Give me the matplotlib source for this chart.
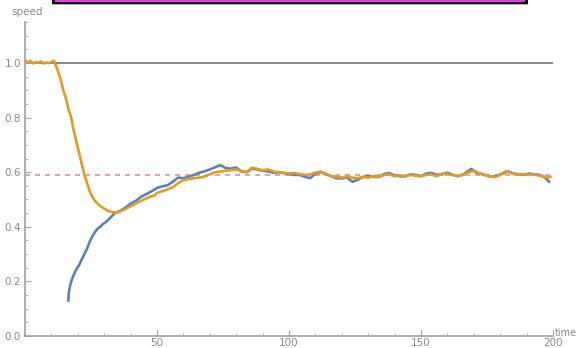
import matplotlib.pyplot as plt
from matplotlib.patches import Rectangle
from matplotlib.ticker import MultipleLocator

# orange series (starts at full speed)
t_orange = [0, 1, 2, 3, 4, 5, 6, 7, 8, 9, 10, 11, 11.5,
            12.5, 13.5, 14.5, 15.5, 16.5, 17.5, 18.5, 19.5, 20.5, 21.5, 22.5, 23.5, 24.5,
            25.5, 26.5, 28, 29.5, 31, 32.5, 34, 35.5, 37, 39, 41, 43, 45, 47, 49, 50,
            52, 54, 56, 58, 60, 62, 64, 66, 68, 70, 72, 74, 76, 78, 80, 82, 84, 86,
            88, 90, 92, 94, 96, 98, 100, 102, 104, 106, 108, 110, 112, 114, 116, 118,
            120, 122, 124, 126, 128, 130, 132, 134, 136, 138, 140, 142, 144, 146, 148,
            150, 152, 154, 156, 158, 160, 162, 164, 166, 168, 170, 172, 174, 176, 178,
            180, 182, 184, 186, 188, 190, 192, 194, 196, 198, 199]
v_orange = [1.012, 1.0, 1.008, 0.998, 1.003, 1.0, 1.006, 0.998, 1.002, 0.999, 1.004, 1.008, 0.995,
            0.97, 0.94, 0.90, 0.87, 0.83, 0.80, 0.75, 0.71, 0.67, 0.63, 0.59, 0.56, 0.53,
            0.51, 0.495, 0.48, 0.47, 0.46, 0.455, 0.452, 0.455, 0.46, 0.47, 0.48, 0.49, 0.50, 0.508, 0.515, 0.524,
            0.53, 0.537, 0.545, 0.56, 0.571, 0.575, 0.578, 0.58, 0.584, 0.592, 0.60, 0.602, 0.605, 0.607, 0.61, 0.604, 0.60, 0.617,
            0.612, 0.607, 0.61, 0.603, 0.60, 0.598, 0.595, 0.597, 0.593, 0.59, 0.592, 0.598, 0.602, 0.594, 0.585, 0.583,
            0.58, 0.585, 0.58, 0.578, 0.583, 0.58, 0.585, 0.583, 0.59, 0.592, 0.585, 0.588, 0.585, 0.59, 0.587,
            0.585, 0.59, 0.592, 0.585, 0.595, 0.593, 0.59, 0.587, 0.59, 0.60, 0.605, 0.597, 0.59, 0.585, 0.582,
            0.59, 0.603, 0.598, 0.59, 0.593, 0.59, 0.592, 0.589, 0.585, 0.58, 0.583]

# blue series (starts late, from low speed)
t_blue = [16.4, 16.6, 17, 17.5, 18.5, 19.5, 20.5, 21.5, 22.5, 23.5, 24.5, 25.5, 26.5,
          27.5, 28.5, 29.5, 31, 32.5, 34, 36, 38, 40, 42, 44, 46, 48, 50, 52, 54, 56,
          58, 60, 62, 64, 66, 68, 70, 72, 74, 76, 78, 80, 82, 84, 86, 88, 90, 92, 94,
          96, 98, 100, 102, 104, 106, 108, 110, 112, 114, 116, 118, 120, 122, 124, 126,
          128, 130, 132, 134, 136, 138, 140, 142, 144, 146, 148, 150, 152, 154, 156,
          158, 160, 162, 164, 166, 168, 169, 171, 173, 175, 177, 179, 181, 183, 185,
          187, 189, 191, 193, 195, 197, 198, 198.5]
v_blue = [0.13, 0.16, 0.18, 0.2, 0.225, 0.245, 0.26, 0.28, 0.30, 0.32, 0.345, 0.365, 0.38,
          0.393, 0.40, 0.41, 0.42, 0.435, 0.45, 0.458, 0.47, 0.485, 0.495, 0.51, 0.52, 0.53, 0.542, 0.548, 0.552, 0.565,
          0.58, 0.578, 0.583, 0.59, 0.598, 0.603, 0.61, 0.618, 0.626, 0.615, 0.613, 0.617, 0.603, 0.60, 0.613, 0.61, 0.605, 0.603, 0.598,
          0.6, 0.597, 0.593, 0.59, 0.59, 0.583, 0.578, 0.595, 0.6, 0.592, 0.585, 0.578, 0.577, 0.58, 0.565, 0.572,
          0.582, 0.585, 0.583, 0.582, 0.593, 0.597, 0.588, 0.585, 0.585, 0.592, 0.59, 0.585, 0.595, 0.597, 0.59,
          0.592, 0.598, 0.59, 0.585, 0.592, 0.605, 0.612, 0.598, 0.593, 0.587, 0.583, 0.588, 0.595, 0.603, 0.595,
          0.592, 0.59, 0.595, 0.592, 0.59, 0.58, 0.57, 0.565]

max_speed = 1.0
mean_speed = 0.59

W, H = 579, 348
fig = plt.figure(figsize=(W / 100, H / 100), dpi=100)
ax = fig.add_axes([25 / W, 12 / H, 528 / W, 314 / H])

gray = '#8a8a8a'
ax.axhline(max_speed, color='#808080', lw=1.3, zorder=1)
ax.axhline(mean_speed, color='#f08c8c', lw=1.2, ls=(0, (3, 3)), zorder=1)
ax.plot(t_blue, v_blue, color='#5e81b5', lw=1.9, zorder=2)
ax.plot(t_orange, v_orange, color='#e19c24', lw=1.9, zorder=3)

ax.set_xlim(0, 200)
ax.set_ylim(0, 1.15)
for s in ['top', 'right']:
    ax.spines[s].set_visible(False)
for s in ['left', 'bottom']:
    ax.spines[s].set_color('#a0a0a0')
    ax.spines[s].set_linewidth(1.2)

ax.xaxis.set_major_locator(MultipleLocator(50))
ax.xaxis.set_minor_locator(MultipleLocator(10))
ax.yaxis.set_major_locator(MultipleLocator(0.2))
ax.yaxis.set_minor_locator(MultipleLocator(0.05))
ax.set_xticks([50, 100, 150, 200])
ax.tick_params(which='both', direction='in', color='#a0a0a0', labelcolor=gray, labelsize=7.5)
ax.tick_params(which='major', length=4, width=0.8, pad=3)
ax.tick_params(axis='x', which='major', pad=1.5)
ax.tick_params(which='minor', length=2.5, width=0.6)
ax.set_yticks([0.0, 0.2, 0.4, 0.6, 0.8, 1.0])
ax.set_yticklabels(['0.0', '0.2', '0.4', '0.6', '0.8', '1.0'])

fig.text(11 / W, 1 - 12 / H, 'speed', color=gray, fontsize=7.5, va='center')
fig.text(1 - 2 / W, 1 - 333 / H, 'time', color=gray, fontsize=7, va='center', ha='right')

# cut-off frame at the top of the image
fig.patches.append(Rectangle((52 / W, 1 - 4.7 / H), 476 / W, 8 / H, transform=fig.transFigure,
                             color='#b0b0b0', lw=0))
fig.patches.append(Rectangle((52 / W, 1 - 3.5 / H), 476 / W, 8 / H, transform=fig.transFigure,
                             color='black', lw=0))
fig.patches.append(Rectangle((55 / W, 1 - 1.8 / H), 470 / W, 8 / H, transform=fig.transFigure,
                             color='#e23ce2', lw=0))

fig.savefig('out.png', dpi=100)
